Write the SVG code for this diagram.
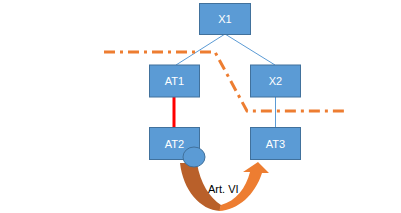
<svg xmlns="http://www.w3.org/2000/svg" width="401" height="213" viewBox="0 0 401 213">
<style>
.box{fill:#5B9BD5;stroke:#41719C;stroke-width:1}
.lbl{font-family:"Liberation Sans",Arial,sans-serif;font-size:11px;fill:#FFFFFF;text-anchor:middle}
.conn{stroke:#5B9BD5;stroke-width:1;fill:none}
</style>
<rect width="401" height="213" fill="#FFFFFF"/>
<g id="connectors">
<line class="conn" x1="225" y1="34" x2="176" y2="65"/>
<line class="conn" x1="225" y1="34" x2="275" y2="65"/>
<line class="conn" x1="275.5" y1="97" x2="275.5" y2="127"/>
<line x1="174" y1="97" x2="174" y2="127" stroke="#FF0000" stroke-width="3"/>
<polyline points="104,52 215,52 247,111 344,111" fill="none" stroke="#ED7D31" stroke-width="3" stroke-dasharray="11,5,3,5"/>
</g>
<g id="X1"><rect class="box" x="199.5" y="3.5" width="51" height="31"/><text class="lbl" x="225" y="23">X1</text></g>
<g id="AT1"><rect class="box" x="149.5" y="65" width="50" height="32"/><text class="lbl" x="174.5" y="85">AT1</text></g>
<g id="X2"><rect class="box" x="250.5" y="65" width="50" height="32"/><text class="lbl" x="275.5" y="85">X2</text></g>
<g id="AT2"><rect class="box" x="149.5" y="127.5" width="50" height="32"/><text class="lbl" x="174.5" y="147.5">AT2</text></g>
<g id="AT3"><rect class="box" x="250.5" y="127.5" width="50" height="32"/><text class="lbl" x="275.5" y="147.5">AT3</text></g>
<g id="arc">
<path d="M180,163 C183,190 200,210 220,211 L221,205 C210,198 200,183 197,163 Z" fill="#B9602A"/>
<path d="M219,211 C238,210 255,195 262,173 L269,173 L258,162 L243,172 L250,172 C246,188 236,201 221,205 Z" fill="#ED7D31"/>
<ellipse cx="194" cy="157" rx="11" ry="10" fill="#5B9BD5" stroke="#41719C" stroke-width="1"/>
<text x="208" y="192.5" font-family="'Liberation Sans',Arial,sans-serif" font-size="11" fill="#000000">Art. VI</text>
</g>
</svg>
